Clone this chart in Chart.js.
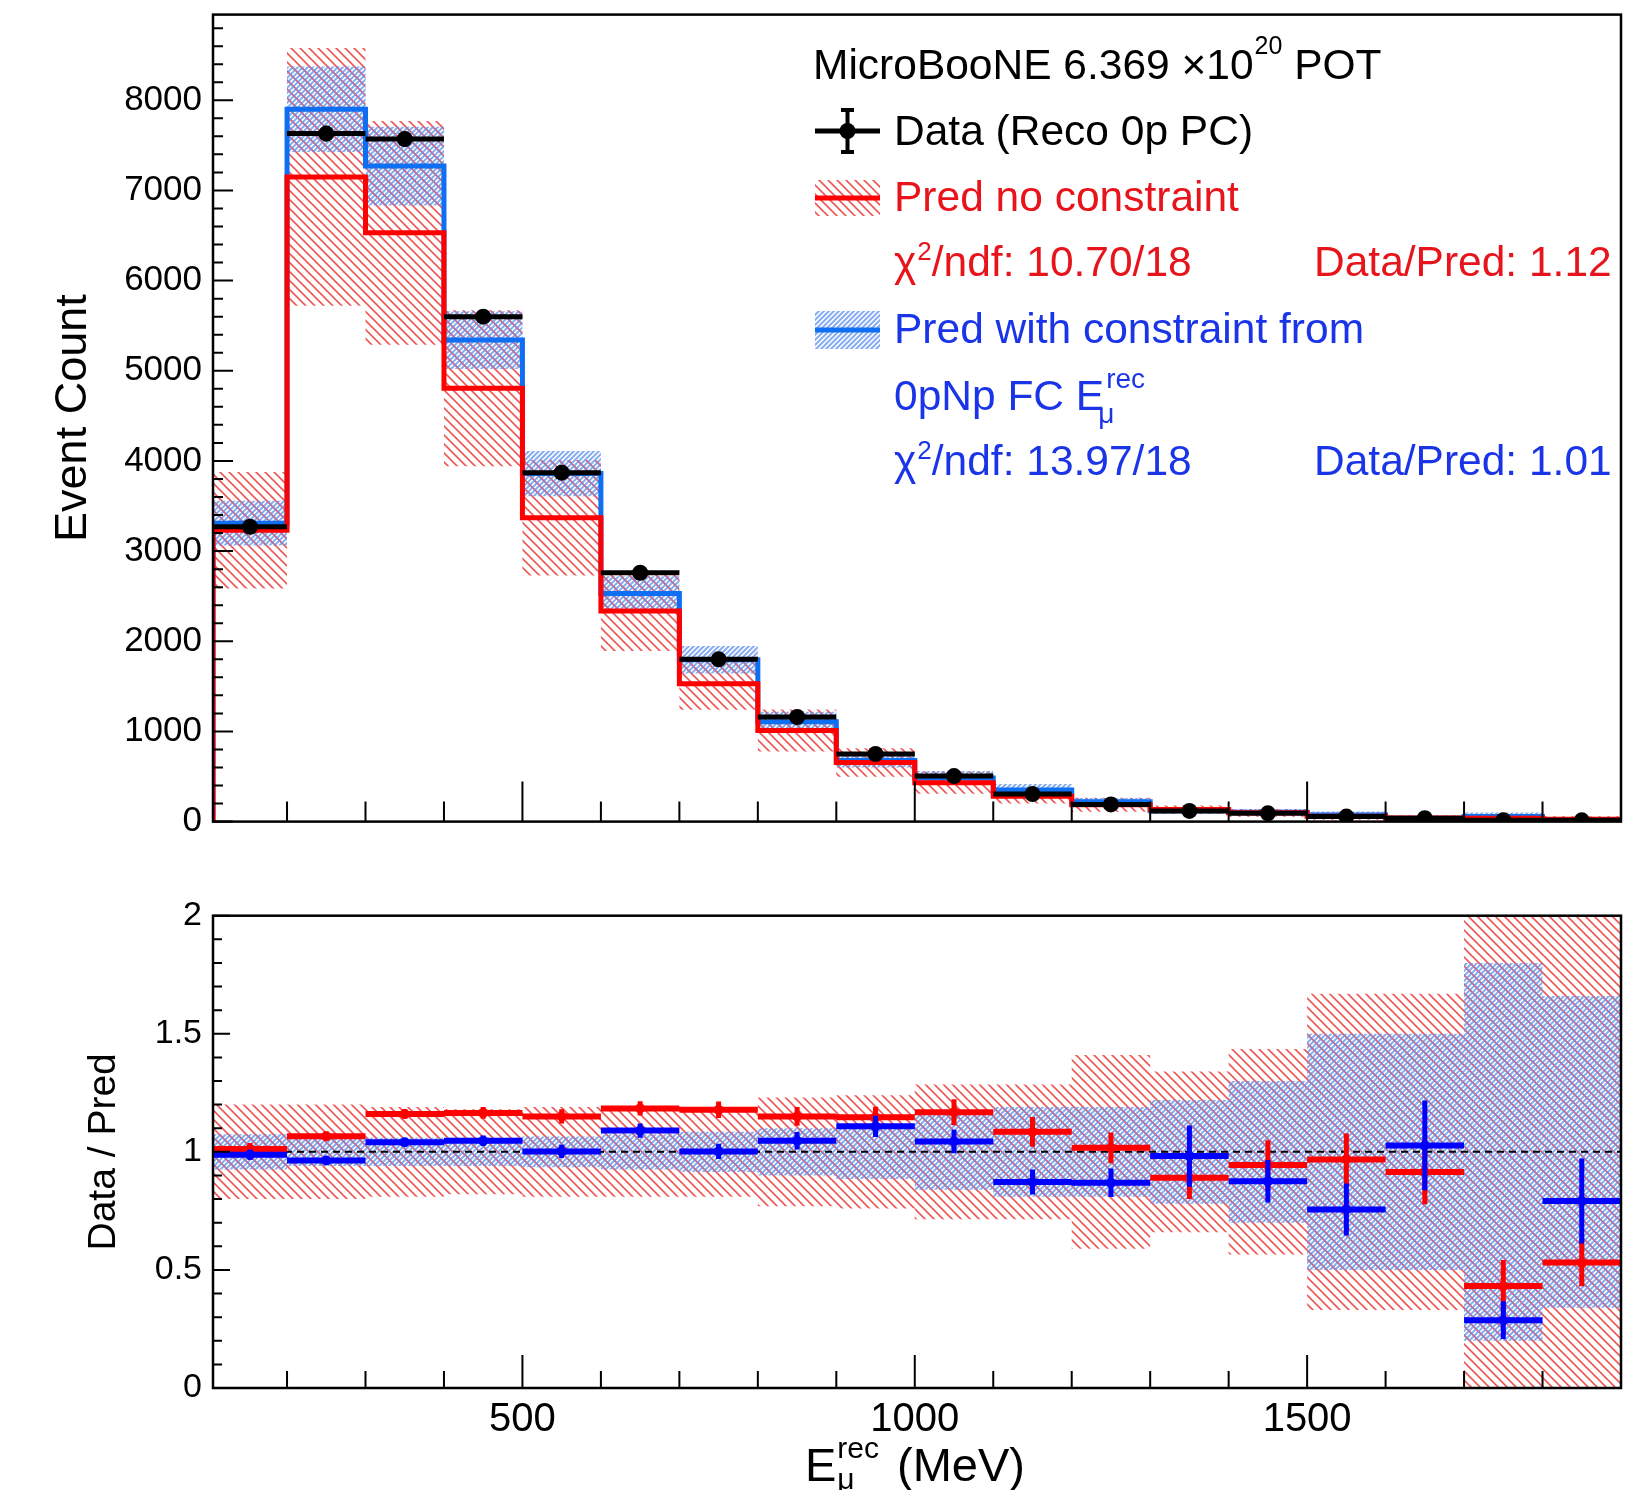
<!DOCTYPE html>
<html><head><meta charset="utf-8">
<script src="https://cdn.jsdelivr.net/npm/chart.js@4.4.1/dist/chart.umd.min.js"></script>
<style>
html,body{margin:0;padding:0;background:#fff;}
#wrap{position:relative;width:1639px;height:1490px;overflow:hidden;background:#fff;font-family:'Liberation Sans',Arial,sans-serif;}
canvas{position:absolute;left:0;}
.t{position:absolute;white-space:pre;line-height:1;font-family:'Liberation Sans',Arial,sans-serif;}
</style></head><body>
<div id="wrap">
<canvas id="cTop" width="1639" height="870" style="top:0;width:1639px;height:870px"></canvas>
<canvas id="cBot" width="1639" height="620" style="top:870px;width:1639px;height:620px"></canvas>
</div>
<script>
// ---------------- data ----------------
const binEdges = [105.66,200,300,400,500,600,700,800,900,1000,1100,1200,1300,1400,1500,1600,1700,1800,1900];
const dataCounts = [3270,7630,7570,5600,3870,2760,1800,1160,750,505,305,190,118,92,56,37,16,14];
const dataErr = [57,87,87,75,62,53,42,34,27,22,17,14,11,10,7.5,6,4,3.7];
const predNoConstraint = [3230,7150,6530,4805,3370,2335,1530,1010,655,432,281,187,133,97,58,40,37,26];
const predNoConstraintRelErr = [0.20,0.20,0.19,0.18,0.19,0.19,0.19,0.23,0.24,0.285,0.285,0.41,0.34,0.435,0.67,0.67,1.25,1.25];
const predConstraint = [3310,7900,7270,5340,3860,2530,1795,1108,677,484,350,219,120,105,74,36,56,18];
const predConstraintRelErr = [0.075,0.06,0.06,0.06,0.065,0.075,0.085,0.10,0.115,0.16,0.19,0.19,0.22,0.30,0.50,0.50,0.80,0.66];
const ratioNoConstraint = [1.012,1.066,1.16,1.165,1.15,1.184,1.178,1.15,1.146,1.168,1.085,1.017,0.89,0.944,0.968,0.915,0.432,0.531];
const ratioNoConstraintErr = [0.025,0.02,0.02,0.025,0.03,0.03,0.035,0.04,0.045,0.055,0.063,0.065,0.09,0.105,0.11,0.137,0.11,0.10];
const ratioConstraint = [0.988,0.963,1.041,1.047,1.002,1.09,1.002,1.047,1.108,1.044,0.872,0.869,0.982,0.876,0.756,1.027,0.287,0.792];
const ratioConstraintErr = [0.022,0.018,0.018,0.022,0.028,0.03,0.032,0.037,0.045,0.05,0.053,0.06,0.13,0.09,0.11,0.19,0.08,0.18];
const topYTicks = [0,1000,2000,3000,4000,5000,6000,7000,8000];
const ratioYTicks = [0,0.5,1,1.5,2];
const xLabelValues = [500,1000,1500];
const xMinorValues = [200,300,400,600,700,800,900,1100,1200,1300,1400,1600,1700,1800];

// ---------------- styles ----------------
const RED = '#ff0000', BLUE_LINE = '#0f6ff2', BLUE_MK = '#0000ff';
const RED_TXT = '#e8141c', BLUE_TXT = '#1a35e8';
const FONT = "'Liberation Sans', Arial, sans-serif";
Chart.defaults.font.family = FONT;
Chart.defaults.color = '#000';

function hatch(color, s, lw, dir) {
  const c = document.createElement('canvas'); c.width = s; c.height = s;
  const g = c.getContext('2d'); g.strokeStyle = color; g.lineWidth = lw; g.beginPath();
  if (dir === 'back') {
    g.moveTo(-1,-1); g.lineTo(s+1,s+1);
    g.moveTo(-1,s-1); g.lineTo(1,s+1);
    g.moveTo(s-1,-1); g.lineTo(s+1,1);
  } else {
    g.moveTo(-1,s+1); g.lineTo(s+1,-1);
    g.moveTo(-1,1); g.lineTo(1,-1);
    g.moveTo(s-1,s+1); g.lineTo(s+1,s-1);
  }
  g.stroke();
  return g.createPattern(c,'repeat');
}
const redHatch = hatch('rgba(235,45,45,0.8)', 9, 1.6, 'back');
const blueHatch = hatch('rgba(95,145,235,0.75)', 5, 2.0, 'fwd');

// ---------------- helpers building library points ----------------
function stepPts(vals, withBase) {
  const p = [];
  if (withBase) p.push({x: binEdges[0], y: 0});
  vals.forEach((v,i) => p.push({x: binEdges[i], y: v}));
  p.push({x: binEdges[binEdges.length-1], y: vals[vals.length-1]});
  if (withBase) p.push({x: binEdges[binEdges.length-1], y: 0});
  return p;
}
function hBars(vals) {
  const p = [];
  vals.forEach((v,i) => { p.push({x: binEdges[i], y: v}, {x: binEdges[i+1], y: v}, {x: binEdges[i+1], y: null}); });
  return p;
}
function centers() { return dataCounts.map((_,i) => (binEdges[i]+binEdges[i+1])/2); }
function vBars(vals, errs) {
  const c = centers(), p = [];
  vals.forEach((v,i) => { p.push({x: c[i], y: v-errs[i]}, {x: c[i], y: v+errs[i]}, {x: c[i], y: null}); });
  return p;
}
function markers(vals) { const c = centers(); return vals.map((v,i) => ({x: c[i], y: v})); }

const lineBase = {type:'line', pointRadius:0, pointHoverRadius:0, spanGaps:false, tension:0};

// ---------------- frame + inward ticks plugin ----------------
const framePlugin = {
  id: 'frame',
  afterDatasetsDraw(chart, args, o) {
    const {ctx, chartArea: a, scales: {x, y}} = chart;
    ctx.save();
    ctx.strokeStyle = '#000'; ctx.lineWidth = 2;
    ctx.beginPath();
    xMinorValues.forEach(v => { const px = x.getPixelForValue(v); ctx.moveTo(px, a.bottom); ctx.lineTo(px, a.bottom - o.xMinorLen); });
    xLabelValues.forEach(v => { const px = x.getPixelForValue(v); ctx.moveTo(px, a.bottom); ctx.lineTo(px, a.bottom - o.xMajorLen); });
    for (let k = 0; k * o.yMinorStep <= y.max + 1e-9; k++) {
      const v = k * o.yMinorStep;
      const major = (k % o.yMinorPerMajor) === 0;
      const py = y.getPixelForValue(v);
      ctx.moveTo(a.left, py); ctx.lineTo(a.left + (major ? o.yMajorLen : o.yMinorLen), py);
    }
    ctx.stroke();
    ctx.lineWidth = 2.5;
    ctx.strokeRect(a.left, a.top, a.right - a.left, a.bottom - a.top);
    ctx.restore();
  }
};

// legend symbols for the top pad
const legendSymbols = {
  id: 'legsym',
  afterDraw(chart) {
    const ctx = chart.ctx; ctx.save();
    ctx.strokeStyle = '#000'; ctx.lineWidth = 5;
    ctx.beginPath(); ctx.moveTo(815,131); ctx.lineTo(880,131); ctx.stroke();
    ctx.lineWidth = 4;
    ctx.beginPath(); ctx.moveTo(847.5,110); ctx.lineTo(847.5,152);
    ctx.moveTo(841,110); ctx.lineTo(854,110); ctx.moveTo(841,152); ctx.lineTo(854,152); ctx.stroke();
    ctx.fillStyle = '#000'; ctx.beginPath(); ctx.arc(847.5,131,8,0,Math.PI*2); ctx.fill();
    ctx.fillStyle = redHatch; ctx.fillRect(815,180,65,36);
    ctx.strokeStyle = RED; ctx.lineWidth = 5; ctx.beginPath(); ctx.moveTo(815,198); ctx.lineTo(880,198); ctx.stroke();
    ctx.fillStyle = blueHatch; ctx.fillRect(815,311,65,38);
    ctx.strokeStyle = BLUE_LINE; ctx.lineWidth = 5; ctx.beginPath(); ctx.moveTo(815,330); ctx.lineTo(880,330); ctx.stroke();
    ctx.restore();
  }
};

// ---------------- top pad ----------------
const topChart = new Chart(document.getElementById('cTop'), {
  type: 'line',
  data: { datasets: [
    {...lineBase, data: stepPts(predNoConstraint.map((v,i)=>v*(1+predNoConstraintRelErr[i]))), stepped:true, borderWidth:0, backgroundColor:redHatch, fill:'+1', order:10},
    {...lineBase, data: stepPts(predNoConstraint.map((v,i)=>v*(1-predNoConstraintRelErr[i]))), stepped:true, borderWidth:0, fill:false, order:10},
    {...lineBase, data: stepPts(predConstraint.map((v,i)=>v*(1+predConstraintRelErr[i]))), stepped:true, borderWidth:0, backgroundColor:blueHatch, fill:'+1', order:9},
    {...lineBase, data: stepPts(predConstraint.map((v,i)=>v*(1-predConstraintRelErr[i]))), stepped:true, borderWidth:0, fill:false, order:9},
    {...lineBase, data: stepPts(predConstraint, true), stepped:true, borderColor:BLUE_LINE, borderWidth:5, fill:false, order:6},
    {...lineBase, data: stepPts(predNoConstraint, true), stepped:true, borderColor:RED, borderWidth:5, fill:false, order:5},
    {...lineBase, data: hBars(dataCounts), borderColor:'#000', borderWidth:5, fill:false, order:3},
    {...lineBase, data: vBars(dataCounts, dataErr), borderColor:'#000', borderWidth:3, fill:false, order:2},
    {...lineBase, data: markers(dataCounts), showLine:false, pointRadius:8, pointBackgroundColor:'#000', pointBorderWidth:0, order:1}
  ]},
  options: {
    responsive:false, animation:false, devicePixelRatio:1, events:[],
    layout:{padding:{top:14.6, right:18, left:0, bottom:0}},
    plugins:{legend:{display:false}, tooltip:{enabled:false},
      frame:{xMinorLen:20, xMajorLen:40, yMinorStep:200, yMinorPerMajor:5, yMinorLen:10, yMajorLen:20}},
    scales:{
      x:{type:'linear', min:binEdges[0], max:binEdges[binEdges.length-1], ticks:{display:false},
         grid:{display:false, drawTicks:false}, border:{display:false}, afterFit(s){s.height=48.4;}},
      y:{type:'linear', min:0, max:8950,
         afterBuildTicks(s){ s.ticks = topYTicks.map(v=>({value:v})); },
         ticks:{autoSkip:false, padding:11, font:{size:35, lineHeight:0.1}, color:'#000', callback:v=>String(v)},
         grid:{display:false, drawTicks:false}, border:{display:false},
         title:{display:true, text:'Event Count', font:{size:45, lineHeight:1}, color:'#000', padding:{top:51.5, bottom:0}},
         afterFit(s){s.width=213;}}
    }
  },
  plugins:[framePlugin, legendSymbols]
});

// ---------------- bottom pad ----------------
const botChart = new Chart(document.getElementById('cBot'), {
  type: 'line',
  data: { datasets: [
    {...lineBase, data: stepPts(predNoConstraintRelErr.map(r=>1+r)), stepped:true, borderWidth:0, backgroundColor:redHatch, fill:'+1', order:10},
    {...lineBase, data: stepPts(predNoConstraintRelErr.map(r=>1-r)), stepped:true, borderWidth:0, fill:false, order:10},
    {...lineBase, data: stepPts(predConstraintRelErr.map(r=>1+r)), stepped:true, borderWidth:0, backgroundColor:blueHatch, fill:'+1', order:9},
    {...lineBase, data: stepPts(predConstraintRelErr.map(r=>1-r)), stepped:true, borderWidth:0, fill:false, order:9},
    {...lineBase, data: [{x:binEdges[0], y:1},{x:binEdges[binEdges.length-1], y:1}], borderColor:'#000', borderWidth:2, borderDash:[7,5], fill:false, order:7},
    {...lineBase, data: hBars(ratioNoConstraint), borderColor:RED, borderWidth:6, fill:false, order:5},
    {...lineBase, data: vBars(ratioNoConstraint, ratioNoConstraintErr), borderColor:RED, borderWidth:5, fill:false, order:5},
    {...lineBase, data: markers(ratioNoConstraint), showLine:false, pointRadius:5, pointBackgroundColor:RED, pointBorderWidth:0, order:5},
    {...lineBase, data: hBars(ratioConstraint), borderColor:BLUE_MK, borderWidth:6, fill:false, order:3},
    {...lineBase, data: vBars(ratioConstraint, ratioConstraintErr), borderColor:BLUE_MK, borderWidth:5, fill:false, order:3},
    {...lineBase, data: markers(ratioConstraint), showLine:false, pointRadius:5, pointBackgroundColor:BLUE_MK, pointBorderWidth:0, order:3}
  ]},
  options: {
    responsive:false, animation:false, devicePixelRatio:1, events:[],
    layout:{padding:{top:45.7, right:18, left:0, bottom:0}},
    plugins:{legend:{display:false}, tooltip:{enabled:false},
      frame:{xMinorLen:17, xMajorLen:33, yMinorStep:0.1, yMinorPerMajor:5, yMinorLen:9, yMajorLen:17}},
    scales:{
      x:{type:'linear', min:binEdges[0], max:binEdges[binEdges.length-1],
         afterBuildTicks(s){ s.ticks = xLabelValues.map(v=>({value:v})); },
         ticks:{autoSkip:false, maxRotation:0, minRotation:0, padding:12, font:{size:40, lineHeight:1}, color:'#000', callback:v=>String(v)},
         grid:{display:false, drawTicks:false}, border:{display:false}, afterFit(s){s.height=102;}},
      y:{type:'linear', min:0, max:2,
         afterBuildTicks(s){ s.ticks = ratioYTicks.map(v=>({value:v})); },
         ticks:{autoSkip:false, padding:11, font:{size:34, lineHeight:0.1}, color:'#000', callback:v=>String(v)},
         grid:{display:false, drawTicks:false}, border:{display:false},
         title:{display:true, text:'Data / Pred', font:{size:39, lineHeight:1}, color:'#000', padding:{top:84.5, bottom:0}},
         afterFit(s){s.width=213;}}
    }
  },
  plugins:[framePlugin]
});

// ---------------- text overlays (legend, x title) ----------------
const wrap = document.getElementById('wrap');
const mctx = document.createElement('canvas').getContext('2d');
function measure(txt, fs) { mctx.font = fs + "px 'Liberation Sans'"; return mctx.measureText(txt).width; }
function put(txt, x, base, fs, color) {
  const d = document.createElement('div'); d.className = 't'; d.textContent = txt;
  d.style.left = x + 'px'; d.style.top = (base - 0.8465*fs) + 'px'; d.style.fontSize = fs + 'px'; d.style.color = color;
  wrap.appendChild(d); return x + measure(txt, fs);
}
const LF = 42.5;
let x;
x = put('MicroBooNE 6.369 ×10', 813, 80, LF, '#000'); x = put('20', x + 1, 54, 25, '#000'); put(' POT', x, 80, LF, '#000');
put('Data (Reco 0p PC)', 894, 146, LF, '#000');
put('Pred no constraint', 894, 212, LF, RED_TXT);
x = put('χ', 894, 277, LF, RED_TXT); x = put('2', x + 1, 260, 26, RED_TXT); put('/ndf: 10.70/18', x, 277, LF, RED_TXT);
put('Data/Pred: 1.12', 1314, 277, LF, RED_TXT);
put('Pred with constraint from', 894, 344, LF, BLUE_TXT);
x = put('0pNp FC E', 894, 411, LF, BLUE_TXT); put('rec', x + 2, 389, 28, BLUE_TXT); put('μ', x - 6, 424, 28, BLUE_TXT);
x = put('χ', 894, 476, LF, BLUE_TXT); x = put('2', x + 1, 459, 26, BLUE_TXT); put('/ndf: 13.97/18', x, 476, LF, BLUE_TXT);
put('Data/Pred: 1.01', 1314, 476, LF, BLUE_TXT);
// x-axis title
x = put('E', 805, 1481, 47, '#000'); put('rec', x + 1, 1458, 30, '#000'); put('μ', x + 1, 1489, 30, '#000');
put('(MeV)', 897, 1481, 47, '#000');
</script>
</body></html>
